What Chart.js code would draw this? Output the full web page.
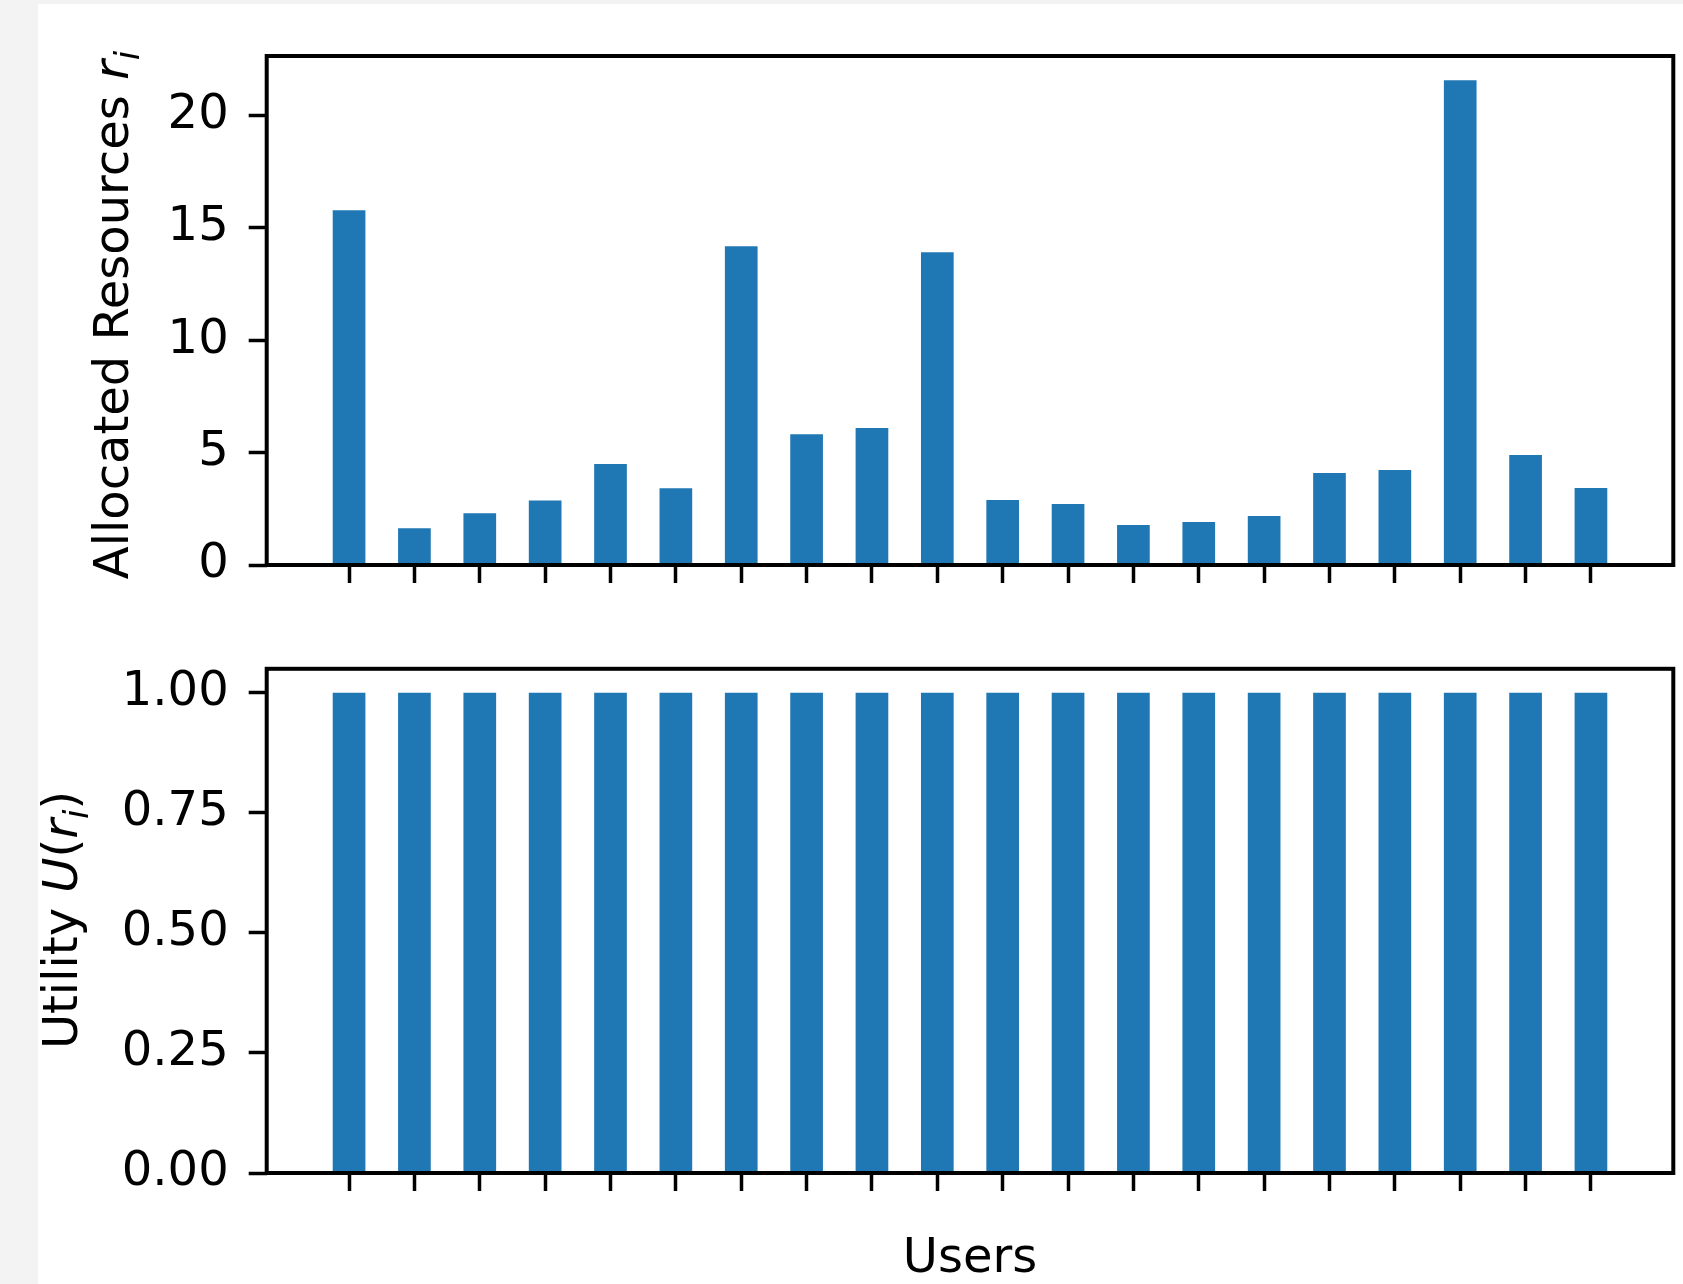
<!DOCTYPE html>
<html>
<head>
<meta charset="utf-8">
<script src="https://cdn.jsdelivr.net/npm/chart.js@4"></script>
<style>
  html, body { margin: 0; padding: 0; background: #fff; }
  body { width: 1683px; height: 1284px; position: relative; overflow: hidden; }
  #stripLeft { position: absolute; left: 0; top: 0; width: 38px; height: 1284px; background: #f3f3f3; }
  #stripTop { position: absolute; left: 0; top: 0; width: 1683px; height: 4px; background: #f3f3f3; }
  .panel { position: absolute; left: 0; width: 1683px; }
  #topPanel { top: 0; height: 620px; }
  #bottomPanel { top: 620px; height: 664px; }
</style>
</head>
<body>
<div id="stripLeft"></div>
<div id="stripTop"></div>
<div class="panel" id="topPanel"><canvas id="resChart"></canvas></div>
<div class="panel" id="bottomPanel"><canvas id="utilChart"></canvas></div>
<script>
const users = ['1', '2', '3', '4', '5', '6', '7', '8', '9', '10',
               '11', '12', '13', '14', '15', '16', '17', '18', '19', '20'];
const allocated = [15.78, 1.63, 2.30, 2.87, 4.49, 3.41, 14.18, 5.82, 6.09, 13.91,
                   2.89, 2.71, 1.78, 1.91, 2.18, 4.09, 4.22, 21.56, 4.89, 3.42];
const utility = [1, 1, 1, 1, 1, 1, 1, 1, 1, 1,
                 1, 1, 1, 1, 1, 1, 1, 1, 1, 1];
const resTicks = [0, 5, 10, 15, 20];
const utilTicks = [0, 0.25, 0.5, 0.75, 1];

const FONT = '"DejaVu Sans", sans-serif';
const FONT_SIZE = 48;
const BAR_BLUE = '#1f77b4';

// spines on all four sides, like matplotlib
const framePlugin = {
  id: 'frame',
  afterDatasetsDraw(chart) {
    const { ctx, chartArea: a } = chart;
    ctx.save();
    ctx.strokeStyle = '#000';
    ctx.lineWidth = 4;
    ctx.strokeRect(a.left, a.top, a.right - a.left, a.bottom - a.top);
    ctx.restore();
  }
};

function partFont(p) {
  const size = p.sub ? Math.round(FONT_SIZE * 0.7) : FONT_SIZE;
  return (p.italic ? 'italic ' : '') + size + 'px ' + FONT;
}

// axis title made of pieces (normal / italic / subscript)
function drawTitle(ctx, parts, x, y, rotate) {
  ctx.save();
  let total = 0;
  const widths = parts.map(p => {
    ctx.font = partFont(p);
    const w = ctx.measureText(p.text).width;
    total += w;
    return w;
  });
  ctx.translate(x, y);
  if (rotate) ctx.rotate(-Math.PI / 2);
  ctx.fillStyle = '#000';
  ctx.textAlign = 'left';
  ctx.textBaseline = 'alphabetic';
  let pos = -total / 2;
  parts.forEach((p, i) => {
    ctx.font = partFont(p);
    ctx.fillText(p.text, pos, p.sub ? FONT_SIZE * 0.22 : 0);
    pos += widths[i];
  });
  ctx.restore();
}

function titlePlugin(titles) {
  return {
    id: 'axisTitles',
    afterDraw(chart) {
      titles.forEach(t => drawTitle(chart.ctx, t.parts, t.x, t.y, t.rotate));
    }
  };
}

function makeChart(canvasId, values, yMax, yTicks, fmt, layout, titles) {
  const ctx = document.getElementById(canvasId).getContext('2d');
  return new Chart(ctx, {
    type: 'bar',
    data: {
      labels: users,
      datasets: [{
        data: values.map((v, i) => ({ x: i, y: v })),
        backgroundColor: BAR_BLUE,
        borderWidth: 0,
        barPercentage: 0.5,
        categoryPercentage: 1.0
      }]
    },
    options: {
      responsive: true,
      maintainAspectRatio: false,
      animation: false,
      events: [],
      layout: { padding: { top: layout.top, right: layout.right, left: 0, bottom: 0 } },
      plugins: {
        legend: { display: false },
        tooltip: { enabled: false }
      },
      scales: {
        x: {
          type: 'linear',
          min: -1.26,
          max: users.length - 1 + 1.26,
          offset: false,
          afterBuildTicks: s => { s.ticks = users.map((u, i) => ({ value: i })); },
          afterFit: s => { s.height = layout.xHeight; },
          ticks: { callback: () => '', autoSkip: false, maxRotation: 0 },
          grid: {
            offset: false,
            drawOnChartArea: false,
            drawTicks: true,
            tickLength: 18,
            tickWidth: 3.5,
            tickColor: '#000'
          },
          border: { display: false }
        },
        y: {
          min: 0,
          max: yMax,
          afterBuildTicks: s => { s.ticks = yTicks.map(v => ({ value: v })); },
          afterFit: s => { s.width = 266.7; },
          ticks: {
            callback: fmt,
            padding: 20,
            color: '#000',
            font: { family: FONT, size: FONT_SIZE }
          },
          grid: {
            drawOnChartArea: false,
            drawTicks: true,
            tickLength: 18,
            tickWidth: 3.5,
            tickColor: '#000'
          },
          border: { display: false }
        }
      }
    },
    plugins: [framePlugin, titlePlugin(titles)]
  });
}

makeChart('resChart', allocated, 22.64, resTicks, v => String(v),
  { top: 56, right: 9.7, xHeight: 55 },
  [{
    rotate: true, x: 128, y: 315,
    parts: [
      { text: 'Allocated Resources ' },
      { text: 'r', italic: true },
      { text: 'i', italic: true, sub: true }
    ]
  }]);

makeChart('utilChart', utility, 1.05, utilTicks, v => v.toFixed(2),
  { top: 42.5, right: 9.7, xHeight: 111 },
  [{
    rotate: true, x: 77, y: 300,
    parts: [
      { text: 'Utility ' },
      { text: 'U', italic: true },
      { text: '(' },
      { text: 'r', italic: true },
      { text: 'i', italic: true, sub: true },
      { text: ')' }
    ]
  }, {
    rotate: false, x: 970, y: 652,
    parts: [{ text: 'Users' }]
  }]);
</script>
</body>
</html>
